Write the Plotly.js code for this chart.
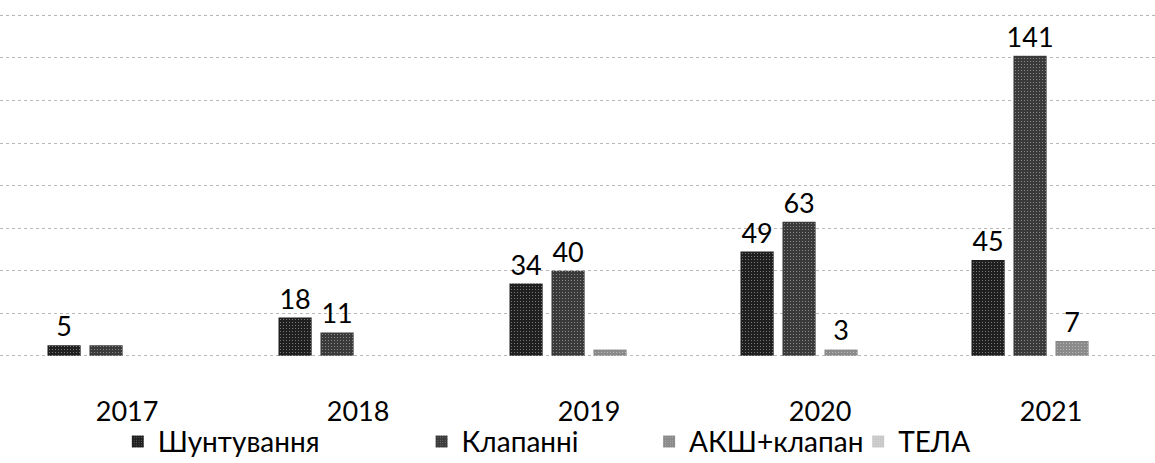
<!DOCTYPE html>
<html>
<head>
<meta charset="utf-8">
<script src="https://cdn.plot.ly/plotly-3.0.1.min.js"></script>
<style>html,body{margin:0;padding:0;background:#fff;}#chart{width:1155px;height:463px;}</style>
</head>
<body>
<div id="chart"></div>
<script>
const years = ['2017', '2018', '2019', '2020', '2021'];
const seriesNames = ['Шунтування', 'Клапанні', 'АКШ+клапан', 'ТЕЛА'];
const shunt = [5, 18, 34, 49, 45];
const valve = [5, 11, 40, 63, 141];
const cabgValve = [0, 0, 3, 3, 7];
const tela = [0, 0, 0, 0, 0];
const shuntLabels = ['5', '18', '34', '49', '45'];
const valveLabels = ['', '11', '40', '63', '141'];
const cabgValveLabels = ['', '', '', '3', '7'];
const telaLabels = ['', '', '', '', ''];
const gridValues = [0, 20, 40, 60, 80, 100, 120, 140, 160];

const values = [shunt, valve, cabgValve, tela];
const labels = [shuntLabels, valveLabels, cabgValveLabels, telaLabels];
const colors = ['#1f1f1f', '#3a3a3a', '#8a8a8a', '#c8c8c8'];
const legendIds = ['legend', 'legend2', 'legend3', 'legend4'];
const legendX = [0.102, 0.365, 0.562, 0.743];
const FONT = 'Lato, "Noto Sans", sans-serif';

const traces = values.map((v, i) => ({
  type: 'bar',
  name: seriesNames[i],
  x: years,
  y: v,
  text: labels[i],
  textposition: 'outside',
  constraintext: 'none',
  cliponaxis: false,
  textfont: {family: FONT, size: 27, color: '#000'},
  legend: legendIds[i],
  marker: {
    color: colors[i],
    line: {width: 0},
    pattern: {shape: '.', fgcolor: '#ffffff', size: 3, solidity: 0.1, fillmode: 'overlay'}
  },
  hoverinfo: 'skip'
}));

const topGrid = gridValues[gridValues.length - 1];
const layout = {
  width: 1155,
  height: 463,
  margin: {l: 0, r: 0, t: 9, b: 105},
  paper_bgcolor: '#fff',
  plot_bgcolor: '#fff',
  barmode: 'group',
  bargap: 0.273,
  bargroupgap: 0.21,
  font: {family: FONT, size: 27, color: '#000'},
  showlegend: true,
  xaxis: {
    type: 'category',
    range: [-0.55, 4.45],
    showgrid: false,
    showline: false,
    zeroline: false,
    ticks: 'outside',
    ticklen: 30,
    tickcolor: 'rgba(0,0,0,0)',
    tickfont: {family: FONT, size: 27, color: '#000'}
  },
  yaxis: {
    range: [-1, 163],
    tickmode: 'array',
    tickvals: gridValues,
    showticklabels: false,
    showgrid: true,
    gridcolor: '#b8b8b8',
    griddash: 'dot',
    gridwidth: 1,
    zeroline: false,
    showline: false
  },
  shapes: [{
    type: 'line', layer: 'below',
    xref: 'paper', x0: 0, x1: 1,
    yref: 'y', y0: topGrid, y1: topGrid,
    line: {color: '#b8b8b8', width: 1, dash: 'dot'}
  }]
};
legendIds.forEach((id, i) => {
  layout[id] = {
    orientation: 'h',
    x: legendX[i],
    xanchor: 'left',
    yref: 'container',
    y: 0.046,
    yanchor: 'middle',
    font: {family: FONT, size: 28, color: '#000'},
    itemwidth: 30,
    bgcolor: 'rgba(0,0,0,0)'
  };
});

Plotly.newPlot('chart', traces, layout, {displayModeBar: false, staticPlot: true});
</script>
</body>
</html>
